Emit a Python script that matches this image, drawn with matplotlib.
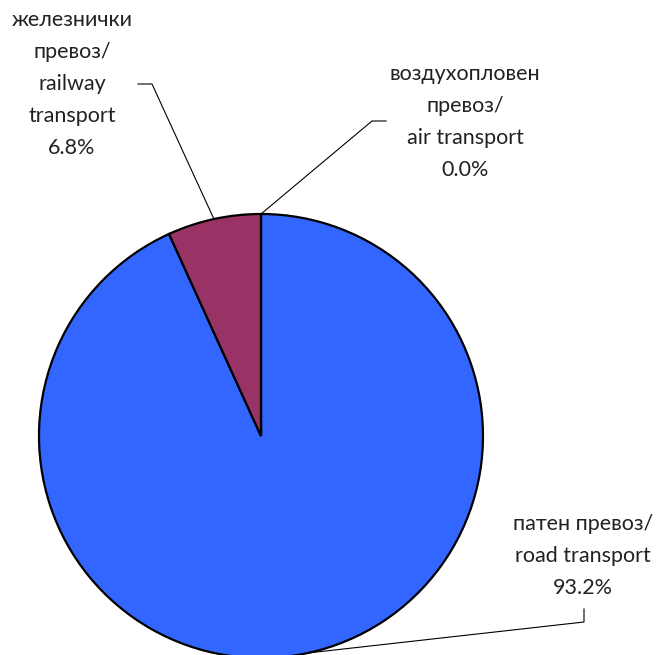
import numpy as np
import matplotlib
matplotlib.use("Agg")
import matplotlib.pyplot as plt

plt.rcParams['font.family'] = ['Lato', 'DejaVu Sans']

# data
labels = ["патен превоз/\nroad transport", "железнички\nпревоз/\nrailway\ntransport",
          "воздухопловен\nпревоз/\nair transport"]
shares = [93.2, 6.8, 0.0]
colors = ["#3366FF", "#993366", "#FFFF99"]

W, H = 660, 655
fig = plt.figure(figsize=(W / 100, H / 100), dpi=100)
ax = fig.add_axes([0, 0, 1, 1])

cx, cy, r = 261, H - 436, 222
ax.pie(shares, colors=colors, startangle=90, counterclock=False,
       center=(cx, cy), radius=r, frame=True,
       wedgeprops=dict(edgecolor='black', linewidth=1.6))
ax.set_xlim(0, W)
ax.set_ylim(0, H)
ax.set_aspect('equal')
ax.axis('off')

# label layout: text center, elbow start, elbow end
layout = [
    dict(text=(583, H - 556), elbow=[(584, H - 609), (584, H - 622)]),
    dict(text=(72, H - 84), elbow=[(138, H - 84), (152, H - 84)]),
    dict(text=(465, H - 122), elbow=[(386, H - 121), (372, H - 121)]),
]

cum = np.cumsum([0] + shares[:-1])
total = sum(shares)
for lab, val, c0, lay in zip(labels, shares, cum, layout):
    mid = np.deg2rad(90 - (c0 + val / 2) / total * 360)
    ax_, ay_ = cx + r * np.cos(mid), cy + r * np.sin(mid)
    (x1, y1), (x2, y2) = lay['elbow']
    ax.plot([x1, x2, ax_], [y1, y2, ay_], color='black', lw=0.8,
            solid_joinstyle='miter')
    ax.text(*lay['text'], f"{lab}\n{val:.1f}%", ha='center', va='center',
            fontsize=15.5, color='#222222', linespacing=1.75)

fig.savefig("out.png", dpi=100)
